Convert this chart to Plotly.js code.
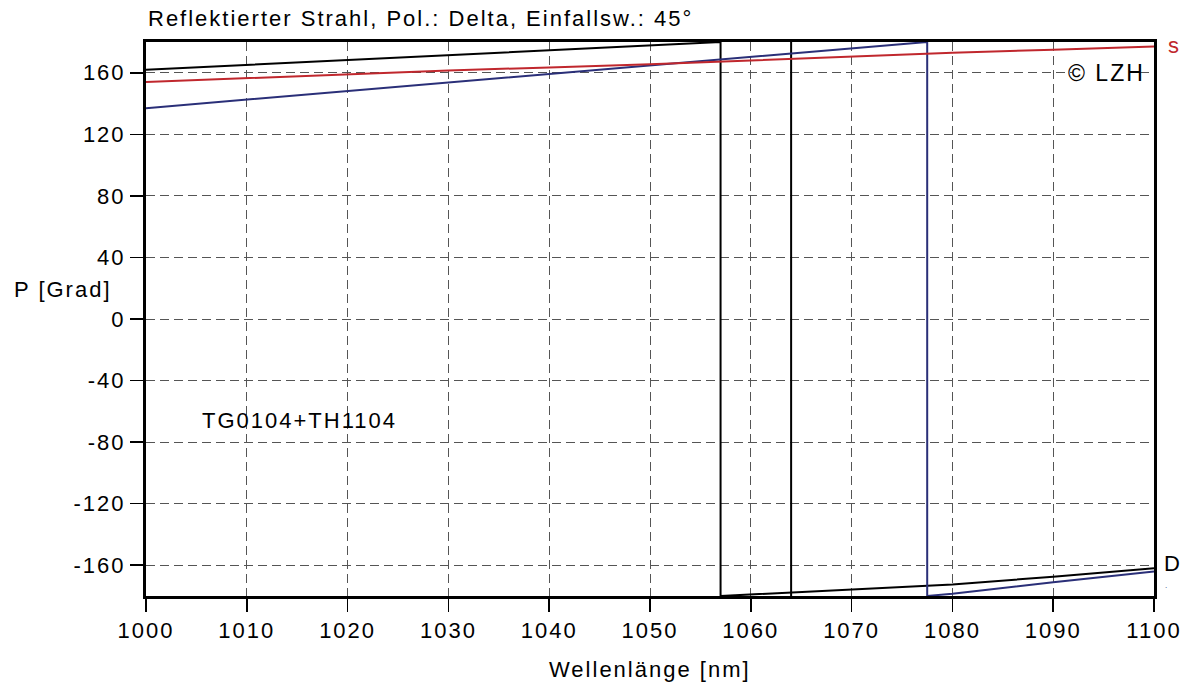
<!DOCTYPE html>
<html><head><meta charset="utf-8">
<script src="https://cdn.plot.ly/plotly-3.0.1.min.js"></script>
<style>body{margin:0;background:#fff}#c{width:1184px;height:688px}#c text{letter-spacing:2px}</style>
</head><body><div id="c"></div>
<script>
// Black curve (wraps at 1057, plus steep jump at 1064)
const blackX = [1000,1010,1020,1030,1040,1050,1057,1057,1060,1064,1070,1080,1090,1100,null,1064,1064];
const blackY = [162,165.2,168.3,171.5,174.5,177.6,180,-180,-179,-177.8,-176,-172.5,-167.5,-162,null,180,-180];
// Blue curve (wraps at 1077.5)
const blueX = [1000,1010,1020,1030,1040,1050,1060,1070,1077.5,1077.5,1080,1090,1100];
const blueY = [137,142.5,148,153.5,159,164.5,170,175.5,180,-180,-178.5,-171,-164];
// Red curve
const redX = [1000,1010,1020,1030,1040,1050,1060,1070,1080,1090,1100];
const redY = [154,156.5,159,161.5,163.5,165.5,168,170.5,173,175,177];

const xTicks = [1000,1010,1020,1030,1040,1050,1060,1070,1080,1090,1100];
const yTicks = [-160,-120,-80,-40,0,40,80,120,160];

const FS = 22;
const font = {family:'Liberation Sans, Arial, sans-serif', color:'#000', size:FS};
const f = (o)=>Object.assign({},font,o||{});
const traces = [
  {x:blackX,y:blackY,mode:'lines',line:{color:'#000000',width:2},connectgaps:false,hoverinfo:'skip'},
  {x:blueX,y:blueY,mode:'lines',line:{color:'#2a2f78',width:2},hoverinfo:'skip'},
  {x:redX,y:redY,mode:'lines',line:{color:'#c0272d',width:2},hoverinfo:'skip'}
];
const layout = {
  width:1184,height:688,showlegend:false,
  paper_bgcolor:'#fff',plot_bgcolor:'#fff',
  margin:{l:146,r:30,t:42,b:92},
  font:f(),
  xaxis:{range:[1000,1100],tickvals:xTicks,ticktext:xTicks.map(String),
    showgrid:true,gridcolor:'#555',griddash:'9px,5px',gridwidth:1,
    showline:true,linecolor:'#000',linewidth:3,mirror:true,
    ticks:'outside',ticklen:13,tickcolor:'#000',tickwidth:1.5,zeroline:false,
    tickfont:f()},
  yaxis:{range:[-180,180],tickvals:yTicks,ticktext:yTicks.map(String),
    showgrid:true,gridcolor:'#555',griddash:'9px,5px',gridwidth:1,
    showline:true,linecolor:'#000',linewidth:3,mirror:true,
    ticks:'outside',ticklen:13,tickcolor:'#000',tickwidth:1.5,zeroline:false,
    tickfont:f()},
  annotations:[
    {text:'Reflektierter Strahl, Pol.: Delta, Einfallsw.: 45°',xref:'paper',yref:'paper',x:0,y:1,xanchor:'left',yanchor:'middle',xshift:50,yshift:24,showarrow:false,font:f()},
    {text:'Wellenlänge [nm]',xref:'paper',yref:'paper',x:0.5,y:0,xanchor:'center',yanchor:'middle',yshift:-73,showarrow:false,font:f()},
    {text:'P [Grad]',xref:'paper',yref:'paper',x:0,y:0.5,xanchor:'left',yanchor:'middle',xshift:-126,yshift:30,showarrow:false,font:f()},
    {text:'TG0104+TH1104',xref:'x',yref:'y',x:1005.5,y:-66,xanchor:'left',yanchor:'middle',xshift:12,showarrow:false,font:f()},
    {text:'© LZH',xref:'paper',yref:'y',x:1,y:160,xanchor:'right',yanchor:'middle',xshift:-13,showarrow:false,bgcolor:'#fff',borderpad:0,font:f({size:23})},
    {text:'s',xref:'paper',yref:'y',x:1,y:178,xanchor:'left',yanchor:'middle',xshift:13,showarrow:false,font:f({color:'#c0272d'})},
    {text:'D',xref:'paper',yref:'y',x:1,y:-159,xanchor:'left',yanchor:'middle',xshift:9,showarrow:false,font:f()},
    {text:'.',xref:'paper',yref:'y',x:1,y:-173,xanchor:'left',yanchor:'middle',xshift:10,showarrow:false,font:f({size:8,color:'#2a2f78'})}
  ]
};
Plotly.newPlot('c',traces,layout,{staticPlot:true});
</script></body></html>
